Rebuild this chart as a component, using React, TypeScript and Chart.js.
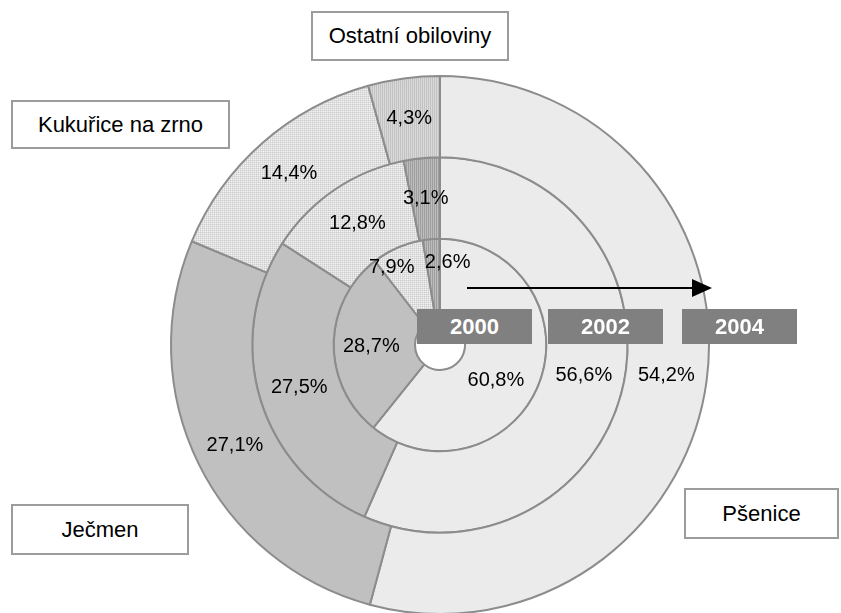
import React, { useEffect, useRef } from "react";
import { Chart, registerables } from "chart.js";
Chart.register(...registerables);

const categories = ["Pšenice", "Ječmen", "Kukuřice na zrno", "Ostatní obiloviny"];
const years = ["2000", "2002", "2004"];
const values2000 = [60.8, 28.7, 7.9, 2.6];
const values2002 = [56.6, 27.5, 12.8, 3.1];
const values2004 = [54.2, 27.1, 14.4, 4.3];

// label nudges (px) for the crowded inner ring, keyed by "year-index"
const labelNudges: Record<string, [number, number]> = {
  "2000-0": [-6, 14],
  "2000-1": [-3, 2],
  "2000-2": [-22, -17],
  "2000-3": [13, -17],
};

const FONT = '"Liberation Sans", Arial, sans-serif';

function fmt(v: number) {
  return v.toFixed(1).replace(".", ",") + "%";
}

function stripePattern(ctx: CanvasRenderingContext2D, a: string, b: string) {
  const c = document.createElement("canvas");
  c.width = 2;
  c.height = 2;
  const g = c.getContext("2d")!;
  g.fillStyle = a;
  g.fillRect(0, 0, 2, 2);
  g.fillStyle = b;
  g.fillRect(0, 0, 1, 2);
  return ctx.createPattern(c, "repeat")!;
}

function gridPattern(ctx: CanvasRenderingContext2D) {
  const c = document.createElement("canvas");
  c.width = 2;
  c.height = 2;
  const g = c.getContext("2d")!;
  g.fillStyle = "#f2f2f2";
  g.fillRect(0, 0, 2, 2);
  g.fillStyle = "#e0e0e0";
  g.fillRect(1, 0, 1, 1);
  g.fillRect(0, 1, 1, 1);
  g.fillStyle = "#cdcdcd";
  g.fillRect(0, 0, 1, 1);
  return ctx.createPattern(c, "repeat")!;
}

const labelPlugin = {
  id: "pctLabels",
  afterDatasetsDraw(chart: any) {
    const ctx: CanvasRenderingContext2D = chart.ctx;
    ctx.save();
    ctx.font = `20px ${FONT}`;
    ctx.fillStyle = "#000";
    ctx.textAlign = "center";
    ctx.textBaseline = "middle";
    chart.data.datasets.forEach((ds: any, di: number) => {
      const meta = chart.getDatasetMeta(di);
      meta.data.forEach((arc: any, i: number) => {
        const p = arc.tooltipPosition(false);
        const n = labelNudges[`${ds.label}-${i}`] || [0, 0];
        ctx.fillText(fmt(ds.data[i]), p.x + n[0], p.y + n[1]);
      });
    });
    ctx.restore();
  },
};

const boxStyle: React.CSSProperties = {
  position: "absolute",
  boxSizing: "border-box",
  border: "2px solid #9c9c9c",
  background: "#fff",
  display: "flex",
  alignItems: "center",
  justifyContent: "center",
  fontFamily: FONT,
  fontSize: 22,
  color: "#000",
  whiteSpace: "nowrap",
};

const yearStyle: React.CSSProperties = {
  position: "absolute",
  background: "#808080",
  color: "#fff",
  fontFamily: FONT,
  fontWeight: "bold",
  fontSize: 22,
  display: "flex",
  alignItems: "center",
  justifyContent: "center",
  width: 115,
  height: 35,
  top: 309,
};

export default function App() {
  const ref = useRef<HTMLCanvasElement>(null);
  useEffect(() => {
    const canvas = ref.current!;
    const ctx = canvas.getContext("2d")!;
    const grid = gridPattern(ctx);
    const stripeLight = stripePattern(ctx, "#d9d9d9", "#c2c2c2");
    const stripeDark = stripePattern(ctx, "#bdbdbd", "#9e9e9e");
    const base = {
      borderColor: "#8c8c8c",
      borderWidth: 2,
    };
    const chart = new Chart(canvas, {
      type: "doughnut",
      data: {
        labels: categories,
        datasets: [
          { label: years[2], data: values2004, backgroundColor: ["#ebebeb", "#c0c0c0", grid, stripeLight], ...base },
          { label: years[1], data: values2002, backgroundColor: ["#ebebeb", "#c0c0c0", grid, stripeDark], ...base },
          { label: years[0], data: values2000, backgroundColor: ["#ebebeb", "#c0c0c0", grid, stripeDark], ...base },
        ],
      } as any,
      options: {
        responsive: false,
        animation: false,
        events: [],
        cutout: 25,
        layout: { padding: { left: 170, right: 131, top: 75, bottom: 5 } },
        plugins: { legend: { display: false }, tooltip: { enabled: false } },
      } as any,
      plugins: [labelPlugin],
    });
    return () => chart.destroy();
  }, []);

  return (
    <div
      style={{
        position: "fixed",
        left: 0,
        top: 0,
        width: 841,
        height: 613,
        overflow: "hidden",
        background: "#fff",
      }}
    >
      <canvas ref={ref} width={841} height={620} style={{ position: "absolute", left: 0, top: 0 }} />
      <div style={{ ...boxStyle, left: 311, top: 11, width: 198, height: 50 }}>{categories[3]}</div>
      <div style={{ ...boxStyle, left: 11, top: 100, width: 219, height: 49 }}>{categories[2]}</div>
      <div style={{ ...boxStyle, left: 11, top: 504, width: 178, height: 51 }}>{categories[1]}</div>
      <div style={{ ...boxStyle, left: 684, top: 488, width: 155, height: 51 }}>{categories[0]}</div>
      <svg width={841} height={613} style={{ position: "absolute", left: 0, top: 0 }}>
        <line x1={467} y1={288} x2={694} y2={288} stroke="#000" strokeWidth={2} />
        <polygon points="692,279 712,288 692,297" fill="#000" />
      </svg>
      <div style={{ ...yearStyle, left: 417 }}>{years[0]}</div>
      <div style={{ ...yearStyle, left: 548 }}>{years[1]}</div>
      <div style={{ ...yearStyle, left: 682 }}>{years[2]}</div>
    </div>
  );
}
